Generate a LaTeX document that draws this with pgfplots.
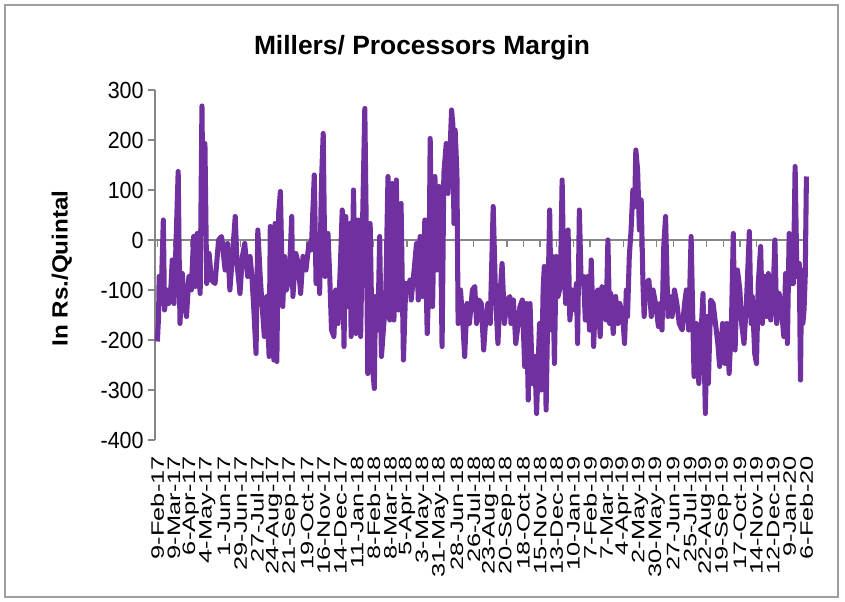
\documentclass[border=0pt]{standalone}
\usepackage{fontspec}
\setmainfont{Liberation Sans}
\newfontfamily\tickfont{Liberation Sans}[FakeStretch=0.92]
\newfontfamily\datefont{Liberation Sans}[FakeStretch=1.41]
\newfontfamily\labfont{Liberation Sans}[FakeStretch=1.1]
\usepackage{pgfplots}
\pgfplotsset{compat=1.18}
\definecolor{margin}{RGB}{112,48,160}
\definecolor{axisgray}{RGB}{134,134,134}

\begin{document}
\begin{tikzpicture}
\begin{axis}[
    at={(0,0)}, anchor=south west,
    scale only axis,
    width=489pt, height=262.5pt,
    xmin=-4, xmax=1093,
    ymin=-400, ymax=300,
    axis y line*=left,
    axis x line*=middle,
    axis line style={axisgray, line width=1pt},
    tick style={axisgray, line width=1pt},
    major tick length=5pt,
    tick align=outside,
    ytick={-400,-300,...,300},
    yticklabel style={font=\tickfont\fontsize{17.5}{17.5}\selectfont},
    xtick={0,28,...,1092},
    xticklabels={9-Feb-17,9-Mar-17,6-Apr-17,4-May-17,1-Jun-17,29-Jun-17,27-Jul-17,24-Aug-17,21-Sep-17,19-Oct-17,16-Nov-17,14-Dec-17,11-Jan-18,8-Feb-18,8-Mar-18,5-Apr-18,3-May-18,31-May-18,28-Jun-18,26-Jul-18,23-Aug-18,20-Sep-18,18-Oct-18,15-Nov-18,13-Dec-18,10-Jan-19,7-Feb-19,7-Mar-19,4-Apr-19,2-May-19,30-May-19,27-Jun-19,25-Jul-19,22-Aug-19,19-Sep-19,17-Oct-19,14-Nov-19,12-Dec-19,9-Jan-20,6-Feb-20},
    xticklabel style={font=\datefont\fontsize{13.5}{13.5}\selectfont, rotate=90, anchor=east, inner sep=1pt},
    xticklabel shift=156pt,
    ylabel={In Rs./Quintal},
    every axis y label/.style={at={(axis description cs:-0.143,0.49)}, rotate=90, anchor=center, font=\labfont\bfseries\fontsize{16.5}{16.5}\selectfont},
    /pgf/number format/assume math mode=true,
    clip=false,
]
\addplot[margin, line width=3.8pt, line join=round] coordinates {
(0,-203)(2,-153)(3,-73)(6,-127)(10,40)(12,-140)(16,-100)(19,-127)(22,-113)(25,-40)(28,-127)(31,-20)(35,137)(38,-167)(42,-67)(45,-127)(49,-153)(53,-73)(57,-100)(61,7)(64,-93)(67,13)(72,-107)(75,268)(77,33)(80,193)(83,-87)(87,-27)(91,-80)(97,-87)(103,0)(108,7)(114,-60)(118,-7)(122,-100)(127,-20)(131,47)(134,-47)(139,-107)(143,-33)(147,-7)(152,-73)(156,-33)(159,-73)(162,-133)(166,-227)(169,20)(173,-73)(176,-127)(180,-193)(184,-113)(188,-233)(190,27)(194,-167)(196,-240)(198,33)(201,-243)(204,53)(207,97)(211,-133)
(214,-33)(217,-100)(222,-73)(226,47)(228,-113)(233,-27)(237,-47)(241,-107)(245,-33)(250,-60)(255,-7)(259,-20)(264,130)(267,-87)(270,-20)(273,-107)(276,113)(279,213)(282,-73)(287,13)(290,-73)(293,-180)(297,-193)(300,-100)(304,-167)(308,-47)(311,60)(314,-213)(317,47)(321,-133)(324,33)(326,-193)(330,100)(334,-187)(338,40)(342,-193)(345,20)(349,263)(352,-33)(354,-267)(358,33)(362,-253)(365,-297)(367,-113)(371,-180)(374,7)(377,-233)(381,-167)(384,-127)(388,127)(391,-160)(395,113)(398,-160)(402,120)(406,-140)(410,73)(414,-240)(418,-87)(422,-100)
(425,-80)(427,-120)(431,-73)(436,-7)(439,-120)(442,7)(446,-113)(450,40)(454,-187)(457,-73)(459,203)(463,-133)(467,127)(470,-60)(474,107)(477,-33)(479,-213)(482,133)(486,193)(489,93)(492,167)(495,260)(497,233)(499,33)(501,220)(504,133)(506,-167)(510,-100)(514,-167)(517,-233)(521,-127)(525,-167)(530,-100)(534,-93)(537,-167)(541,-120)(545,-127)(549,-220)(552,-167)(556,-127)(560,-167)(565,67)(569,-113)(573,-207)(577,-100)(580,-47)(584,-167)(588,-120)(593,-113)(595,-167)(599,-120)(603,-207)(607,-167)(610,-133)(614,-120)(618,-253)(621,-127)(624,-320)(627,-127)(631,-287)(635,-233)(638,-347)
(643,-167)(646,-300)(649,-100)(651,-53)(654,-340)(657,-133)(660,60)(663,-180)(665,-33)(668,-247)(671,-33)(674,-113)(678,-93)(681,120)(683,-20)(687,-127)(691,20)(694,-160)(698,-100)(702,-140)(705,-87)(707,-207)(710,60)(713,-87)(717,-73)(720,-160)(724,-73)(727,-180)(730,-40)(734,-213)(737,-113)(741,-100)(745,-193)(748,-93)(752,-100)(755,-160)(758,0)(761,-167)(763,-107)(767,-187)(771,-113)(775,-167)(778,-127)(783,-153)(786,-207)(789,-100)(791,-153)(794,-33)(797,20)(800,100)(803,67)(805,180)(808,140)(811,20)(814,80)(817,-87)(819,-153)(822,-87)(827,-80)(831,-153)(834,-100)(839,-133)(843,-173)(846,-127)(849,-180)(852,-13)(855,47)(859,-153)
(862,-113)(866,-153)(870,-100)(874,-127)(878,-167)(883,-180)(887,-127)(890,-100)(894,-180)(898,7)(901,-167)(903,-273)(907,-167)(911,-287)(915,-180)(918,-107)(922,-347)(925,-153)(927,-287)(931,-120)(935,-127)(939,-167)(943,-207)(946,-253)(951,-167)(955,-247)(958,-167)(962,-267)(966,-160)(969,13)(972,-220)(976,-60)(980,-100)(983,-167)(987,-207)(991,-127)(996,17)(999,-167)(1001,-113)(1005,-227)(1008,-247)(1011,-87)(1015,-13)(1018,-167)(1022,-73)(1025,-153)(1028,-67)(1032,-160)(1036,-107)(1039,0)(1042,-167)(1046,-107)(1050,-140)(1054,-193)(1057,-67)(1060,-207)(1063,13)(1066,-87)(1070,-87)(1073,147)(1076,-73)(1080,-47)(1082,-280)(1084,-60)(1086,-167)(1088,-140)(1090,-73)(1092,127)
};
\end{axis}
% chart title and outer frame
\node[font=\bfseries\fontsize{19.8}{20}\selectfont] at (200.25pt,294.5pt) {Millers/ Processors Margin};
\draw[gray!75, line width=1pt] (-112.5pt,-117.75pt) rectangle (512.25pt,326.25pt);
\path (-116.25pt,-121.5pt) rectangle (517.5pt,330pt);
\end{tikzpicture}
\end{document}
